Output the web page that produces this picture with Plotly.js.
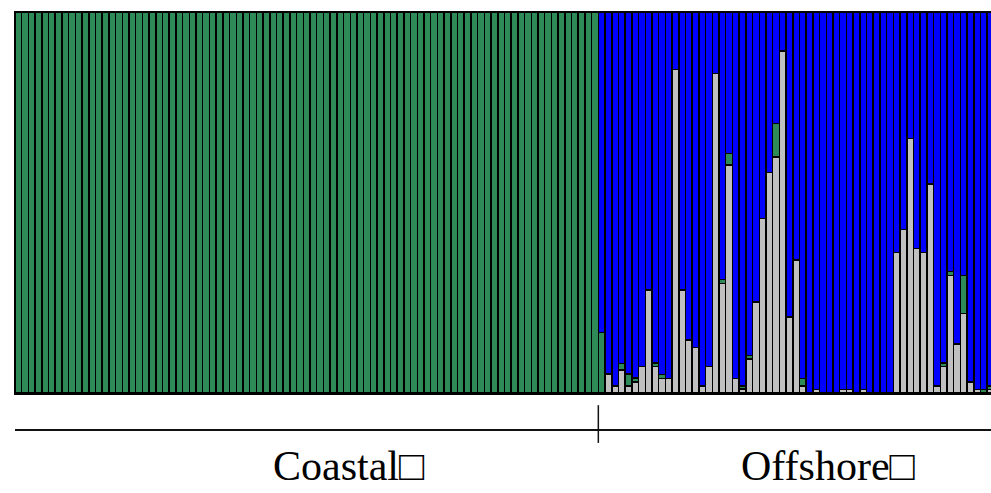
<!DOCTYPE html>
<html>
<head>
<meta charset="utf-8">
<script src="https://cdn.plot.ly/plotly-3.0.1.min.js"></script>
<style>html,body{margin:0;padding:0;background:#fff;}#chart{width:991px;height:493px;}</style>
</head>
<body>
<div id="chart"></div>
<script>
// Individuals: 87 coastal, 59 offshore (last one cut by the image edge)
const groupLabels = ["Coastal□", "Offshore□"];

// Ancestry proportions (cluster 1 = grey, cluster 2 = green, cluster 3 = blue)
const coastalGray = [
0,0,0,0,0,0,0,0,0,0,0,0,0,0,0,0,0,0,0,0,0,0,0,0,0,0,0,0,0,0,
0,0,0,0,0,0,0,0,0,0,0,0,0,0,0,0,0,0,0,0,0,0,0,0,0,0,0,0,0,0,
0,0,0,0,0,0,0,0,0,0,0,0,0,0,0,0,0,0,0,0,0,0,0,0,0,0,0];
const coastalGreen = [
1,1,1,1,1,1,1,1,1,1,1,1,1,1,1,1,1,1,1,1,1,1,1,1,1,1,1,1,1,1,
1,1,1,1,1,1,1,1,1,1,1,1,1,1,1,1,1,1,1,1,1,1,1,1,1,1,1,1,1,1,
1,1,1,1,1,1,1,1,1,1,1,1,1,1,1,1,1,1,1,1,1,1,1,1,1,1,1];
const coastalBlue = [
0,0,0,0,0,0,0,0,0,0,0,0,0,0,0,0,0,0,0,0,0,0,0,0,0,0,0,0,0,0,
0,0,0,0,0,0,0,0,0,0,0,0,0,0,0,0,0,0,0,0,0,0,0,0,0,0,0,0,0,0,
0,0,0,0,0,0,0,0,0,0,0,0,0,0,0,0,0,0,0,0,0,0,0,0,0,0,0];

const offshoreGray = [
0, 0.05, 0.019, 0.06, 0.019, 0.029, 0.069, 0.27, 0.069, 0.038,
0.038, 0.849, 0.27, 0.139, 0.12, 0.019, 0.069, 0.839, 0.288, 0.598,
0.038, 0.01, 0.089, 0.239, 0.458, 0.579, 0.619, 0.898, 0.199, 0.349,
0.019, 0, 0.009, 0, 0, 0, 0.009, 0.009, 0, 0.009,
0, 0, 0, 0, 0.369, 0.429, 0.668, 0.379, 0.369, 0.549,
0.019, 0.069, 0.309, 0.129, 0.209, 0.029, 0.009, 0, 0.009];
const offshoreGreen = [
0.159, 0, 0, 0.018, 0.031, 0.01, 0, 0, 0.01, 0.01,
0, 0, 0, 0, 0, 0, 0, 0, 0.01, 0.031,
0, 0.009, 0.009, 0, 0, 0, 0.089, 0, 0, 0,
0.019, 0, 0, 0, 0, 0, 0, 0, 0, 0,
0, 0, 0, 0, 0, 0, 0, 0, 0, 0,
0, 0.01, 0.01, 0, 0.1, 0, 0, 0.009, 0.01];
const offshoreBlue = [
0.841, 0.95, 0.981, 0.922, 0.95, 0.961, 0.931, 0.73, 0.921, 0.952,
0.962, 0.151, 0.73, 0.861, 0.88, 0.981, 0.931, 0.161, 0.702, 0.371,
0.962, 0.981, 0.902, 0.761, 0.542, 0.421, 0.292, 0.102, 0.801, 0.651,
0.962, 1, 0.991, 1, 1, 1, 0.991, 0.991, 1, 0.991,
1, 1, 1, 1, 0.631, 0.571, 0.332, 0.621, 0.631, 0.451,
0.981, 0.921, 0.681, 0.871, 0.691, 0.971, 0.991, 0.991, 0.981];

const grayVals = coastalGray.concat(offshoreGray);
const greenVals = coastalGreen.concat(offshoreGreen);
const blueVals = coastalBlue.concat(offshoreBlue);
const individuals = grayVals.map((_, i) => i);
const nCoastal = coastalGray.length;

const lineStyle = {color: '#000000', width: 1.5};
const traces = [
  {type: 'bar', x: individuals, y: grayVals, marker: {color: '#C0C0C0', line: lineStyle}, hoverinfo: 'skip'},
  {type: 'bar', x: individuals, y: greenVals, marker: {color: '#2E8B57', line: lineStyle}, hoverinfo: 'skip'},
  {type: 'bar', x: individuals, y: blueVals, marker: {color: '#0000FF', line: lineStyle}, hoverinfo: 'skip'}
];

const pitch = 6.705;
const plotW = 976;
const layout = {
  width: 991, height: 493,
  margin: {l: 15, r: 0, t: 12, b: 100, pad: 0},
  barmode: 'stack', bargap: 0,
  showlegend: false,
  paper_bgcolor: '#ffffff', plot_bgcolor: '#ffffff',
  xaxis: {range: [-0.5, -0.5 + plotW / pitch], showticklabels: false, ticks: '', showgrid: false,
          zeroline: false, showline: true, linecolor: '#000', linewidth: 1.5, mirror: true},
  yaxis: {range: [0, 1], showticklabels: false, ticks: '', showgrid: false, zeroline: false,
          showline: true, linecolor: '#000', linewidth: 1.5},
  shapes: [
    {type: 'line', xref: 'paper', yref: 'paper', x0: 0, x1: 1, y0: -0.0971, y1: -0.0971,
     line: {color: '#111', width: 2}},
    {type: 'line', xref: 'x', yref: 'paper', x0: nCoastal - 0.5, x1: nCoastal - 0.5, y0: -0.032, y1: -0.131,
     line: {color: '#111', width: 1.5}}
  ],
  annotations: [
    {xref: 'paper', yref: 'paper', x: 0.342, y: -0.258, text: groupLabels[0], showarrow: false,
     xanchor: 'center', yanchor: 'bottom', font: {family: 'Liberation Serif, Times New Roman, serif', size: 42, color: '#000'}},
    {xref: 'paper', yref: 'paper', x: 0.833, y: -0.258, text: groupLabels[1], showarrow: false,
     xanchor: 'center', yanchor: 'bottom', font: {family: 'Liberation Serif, Times New Roman, serif', size: 42, color: '#000'}}
  ]
};

Plotly.newPlot('chart', traces, layout, {displayModeBar: false, staticPlot: true});
</script>
</body>
</html>
